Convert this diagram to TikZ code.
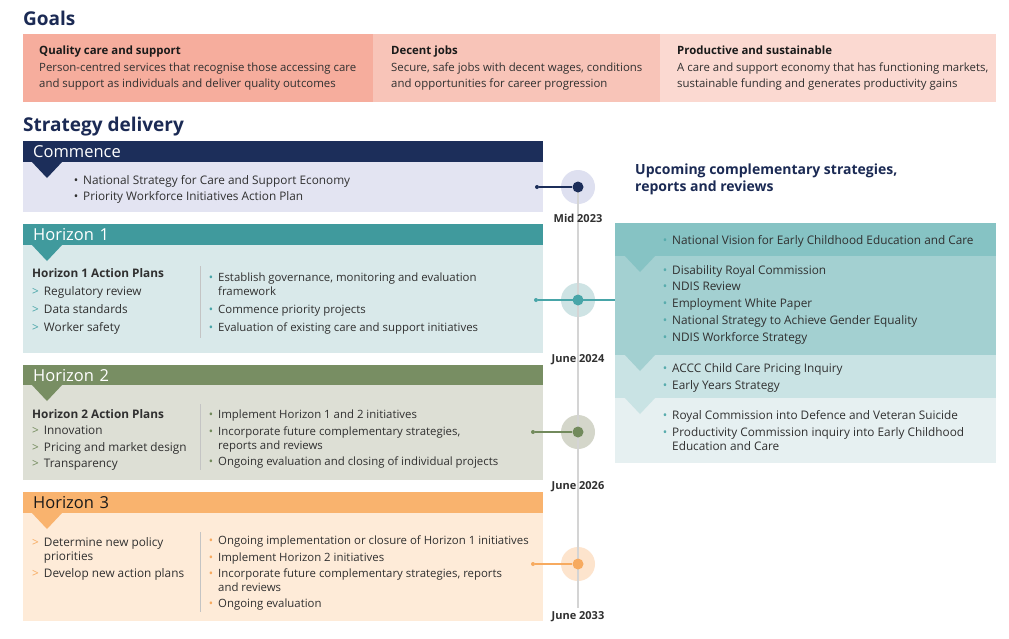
\documentclass[tikz,border=0pt]{standalone}
\usepackage{fontspec}
\setmainfont{Open Sans}
\usetikzlibrary{positioning}
\definecolor{Navy}{RGB}{27,42,84}
\definecolor{Ink}{RGB}{48,48,48}
\definecolor{InkDark}{RGB}{26,26,26}
\definecolor{GoalA}{RGB}{246,173,157}
\definecolor{GoalB}{RGB}{248,196,184}
\definecolor{GoalC}{RGB}{251,217,209}
\definecolor{CmHead}{RGB}{28,46,90}
\definecolor{CmBody}{RGB}{227,228,242}
\definecolor{CmHalo}{RGB}{222,224,240}
\definecolor{HaHead}{RGB}{64,154,157}
\definecolor{HaBody}{RGB}{217,233,234}
\definecolor{HaHalo}{RGB}{206,227,228}
\definecolor{HaDot}{RGB}{72,165,168}
\definecolor{HbHead}{RGB}{120,142,99}
\definecolor{HbBody}{RGB}{221,223,213}
\definecolor{HbHalo}{RGB}{212,214,202}
\definecolor{HbDot}{RGB}{114,138,92}
\definecolor{HcHead}{RGB}{249,179,110}
\definecolor{HcBody}{RGB}{254,235,216}
\definecolor{HcHalo}{RGB}{253,228,205}
\definecolor{HcDot}{RGB}{247,170,95}
\definecolor{UpA}{RGB}{134,195,196}
\definecolor{UpB}{RGB}{163,208,209}
\definecolor{UpC}{RGB}{201,227,228}
\definecolor{UpD}{RGB}{230,240,241}
\definecolor{UpDot}{RGB}{88,172,173}
\definecolor{Rail}{RGB}{212,212,212}
\definecolor{Split}{RGB}{196,196,196}
\newcommand\txtfont{\fontsize{11.4}{14}\selectfont}
\newcommand\bigtxtfont{\fontsize{11.8}{14}\selectfont}
\newcommand\hdrfont{\fontsize{16.5}{20}\selectfont}
\newcommand\ttlfont{\fontsize{19}{23}\selectfont\bfseries}
\newcommand\bul[1]{\llap{\textcolor{#1}{\textbullet}\hspace{5pt}}}
\newcommand\arr[1]{\textcolor{#1}{>}\hspace{5pt}}
\newcommand\arrsp{\hphantom{>}\hspace{5pt}}
\tikzset{
  title/.style={anchor=base west,inner sep=0pt,font=\ttlfont,text=Navy},
  band/.style={anchor=north west,inner sep=0pt,minimum height=68pt},
  hdr/.style={anchor=north west,minimum width=520pt,minimum height=21pt,text width=500pt,inner xsep=10pt,inner ysep=0pt,align=left,font=\hdrfont,text=white},
  panel/.style={anchor=north west,inner sep=0pt,minimum width=520pt},
  uppanel/.style={anchor=north west,inner sep=0pt,minimum width=381pt},
  txt/.style={anchor=north west,inner sep=0pt,align=left,font=\txtfont,text=Ink},
  bigtxt/.style={txt,font=\bigtxtfont},
  gtxt/.style={txt,font=\fontsize{11.4}{16.5}\selectfont},
  halo/.style={circle,inner sep=0pt,minimum size=34pt},
  dot/.style={circle,inner sep=0pt,minimum size=11pt},
  enddot/.style={circle,inner sep=0pt,minimum size=4pt},
  link/.style={line width=1.8pt},
  rail/.style={line width=1.6pt,draw=Rail},
  split/.style={line width=0.6pt,draw=Split},
  date/.style={inner sep=0pt,font=\fontsize{11}{13}\selectfont\bfseries,text=Ink}
}
\begin{document}
\begin{tikzpicture}[x=1pt,y=-1pt]
\useasboundingbox[fill=white] (0,0) rectangle (1009,638);

% goals
\node[title] (goals) at (23,25) {Goals};
\node[band,fill=GoalA,minimum width=350pt] (g1) at (23,34) {};
\node[band,fill=GoalB,minimum width=287pt] (g2) at (373,34) {};
\node[band,fill=GoalC,minimum width=336pt] (g3) at (660,34) {};
\node[gtxt] (g1t) at (39,46) {\textcolor{InkDark}{\bfseries Quality care and support}\\Person-centred services that recognise those accessing care\\and support as individuals and deliver quality outcomes};
\node[gtxt] (g2t) at (391,46) {\textcolor{InkDark}{\bfseries Decent jobs}\\Secure, safe jobs with decent wages, conditions\\and opportunities for career progression};
\node[gtxt] (g3t) at (677,46) {\textcolor{InkDark}{\bfseries Productive and sustainable}\\A care and support economy that has functioning markets,\\sustainable funding and generates productivity gains};

% strategy delivery
\node[title] (strat) at (23,131) {Strategy delivery};

\node[hdr,fill=CmHead] (cmh) at (23,141) {Commence};
\node[panel,fill=CmBody,minimum height=50pt] (cmb) at (23,162) {};
\fill[CmHead] (31,161) -- (63,161) -- (47,178) -- cycle;
\node[bigtxt,font=\fontsize{11.8}{16}\selectfont] (cmt) at (83,175) {\bul{Ink}National Strategy for Care and Support Economy\\\bul{Ink}Priority Workforce Initiatives Action Plan};

\node[hdr,fill=HaHead] (hah) at (23,224) {Horizon 1};
\node[panel,fill=HaBody,minimum height=108pt] (hab) at (23,245) {};
\fill[HaHead] (31,244) -- (63,244) -- (47,261) -- cycle;
\node[txt,font=\fontsize{11.8}{18}\selectfont] (hal) at (32,268) {\textbf{Horizon 1 Action Plans}\\\arr{HaDot}Regulatory review\\\arr{HaDot}Data standards\\\arr{HaDot}Worker safety};
\draw[split] (200,266) -- (200,338);
\node[txt] (har) at (218,272.3) {\bul{HaDot}Establish governance, monitoring and evaluation\\framework\\[4pt]\bul{HaDot}Commence priority projects\\[4pt]\bul{HaDot}Evaluation of existing care and support initiatives};

\node[hdr,fill=HbHead] (hbh) at (23,365) {Horizon 2};
\node[panel,fill=HbBody,minimum height=95pt] (hbb) at (23,385) {};
\fill[HbHead] (31,384) -- (63,384) -- (47,401) -- cycle;
\node[txt,font=\fontsize{11.8}{16.5}\selectfont] (hbl) at (32,409) {\textbf{Horizon 2 Action Plans}\\\arr{HbDot}Innovation\\\arr{HbDot}Pricing and market design\\\arr{HbDot}Transparency};
\draw[split] (200,404) -- (200,470);
\node[txt] (hbr) at (218,409.3) {\bul{HbDot}Implement Horizon 1 and 2 initiatives\\[3pt]\bul{HbDot}Incorporate future complementary strategies,\\reports and reviews\\[2pt]\bul{HbDot}Ongoing evaluation and closing of individual projects};

\node[hdr,fill=HcHead,text=InkDark] (hch) at (23,492) {Horizon 3};
\node[panel,fill=HcBody,minimum height=108pt] (hcb) at (23,513) {};
\fill[HcHead] (31,512) -- (63,512) -- (47,529) -- cycle;
\node[txt,font=\fontsize{11.8}{14}\selectfont] (hcl) at (32,537.3) {\arr{HcDot}Determine new policy\\\arrsp priorities\\[3pt]\arr{HcDot}Develop new action plans};
\draw[split] (200,532) -- (200,612);
\node[txt] (hcr) at (218,535.3) {\bul{HcDot}Ongoing implementation or closure of Horizon 1 initiatives\\[3pt]\bul{HcDot}Implement Horizon 2 initiatives\\[2pt]\bul{HcDot}Incorporate future complementary strategies, reports\\and reviews\\[2pt]\bul{HcDot}Ongoing evaluation};

% timeline
\node[halo,fill=CmHalo] (cmhalo) at (578,187) {};
\node[halo,fill=HaHalo] (hahalo) at (578,300) {};
\node[halo,fill=HbHalo] (hbhalo) at (578,432) {};
\node[halo,fill=HcHalo] (hchalo) at (578,564) {};
\coordinate (railtop) at (578,187);
\coordinate (railend) at (578,608);
\draw[rail] (railtop) -- (railend);
\node[dot,fill=CmHead] (cmdot) at (578,187) {};
\node[dot,fill=HaDot] (hadot) at (578,300) {};
\node[dot,fill=HbDot] (hbdot) at (578,432) {};
\node[dot,fill=HcDot] (hcdot) at (578,564) {};
\node[enddot,fill=CmHead] (cmend) at (537,187) {};
\node[enddot,fill=HaDot] (haend) at (536,300) {};
\node[enddot,fill=HaDot] (haout) at (617,300) {};
\node[enddot,fill=HbDot] (hbend) at (533,432) {};
\node[enddot,fill=HcDot] (hcend) at (533,564) {};
\draw[link,CmHead] (cmend) -- (cmdot);
\draw[link,HbDot] (hbend) -- (hbdot);
\draw[link,HcDot] (hcend) -- (hcdot);
\node[date] (dmid) at (578,218) {Mid 2023};
\node[date] (d24) at (578,360) {June 2024};
\node[date] (d26) at (578,487) {June 2026};
\node[date] (d33) at (578,617) {June 2033};

% upcoming
\node[txt,font=\fontsize{14}{17}\selectfont\bfseries,text=Navy] (upt) at (635,164) {Upcoming complementary strategies,\\reports and reviews};
\node[uppanel,fill=UpA,minimum height=33pt] (upa) at (615,223) {};
\node[uppanel,fill=UpB,minimum height=99pt] (upb) at (615,256) {};
\node[uppanel,fill=UpC,minimum height=43pt] (upc) at (615,355) {};
\node[uppanel,fill=UpD,minimum height=65pt] (upd) at (615,398) {};
\fill[UpA] (624,255) -- (656,255) -- (640,272) -- cycle;
\fill[UpB] (624,354) -- (656,354) -- (640,371) -- cycle;
\fill[UpC] (624,397) -- (656,397) -- (640,414) -- cycle;
\draw[link,HaDot] (haend) -- (haout);
\node[bigtxt] (upat) at (672,235) {\bul{UpDot}National Vision for Early Childhood Education and Care};
\node[bigtxt,font=\fontsize{11.8}{16.75}\selectfont] (upbt) at (672,265) {\bul{UpDot}Disability Royal Commission\\\bul{UpDot}NDIS Review\\\bul{UpDot}Employment White Paper\\\bul{UpDot}National Strategy to Achieve Gender Equality\\\bul{UpDot}NDIS Workforce Strategy};
\node[bigtxt,font=\fontsize{11.8}{17}\selectfont] (upct) at (672,363) {\bul{UpDot}ACCC Child Care Pricing Inquiry\\\bul{UpDot}Early Years Strategy};
\node[bigtxt] (updt) at (672,410) {\bul{UpDot}Royal Commission into Defence and Veteran Suicide\\[3pt]\bul{UpDot}Productivity Commission inquiry into Early Childhood\\Education and Care};
\end{tikzpicture}
\end{document}
